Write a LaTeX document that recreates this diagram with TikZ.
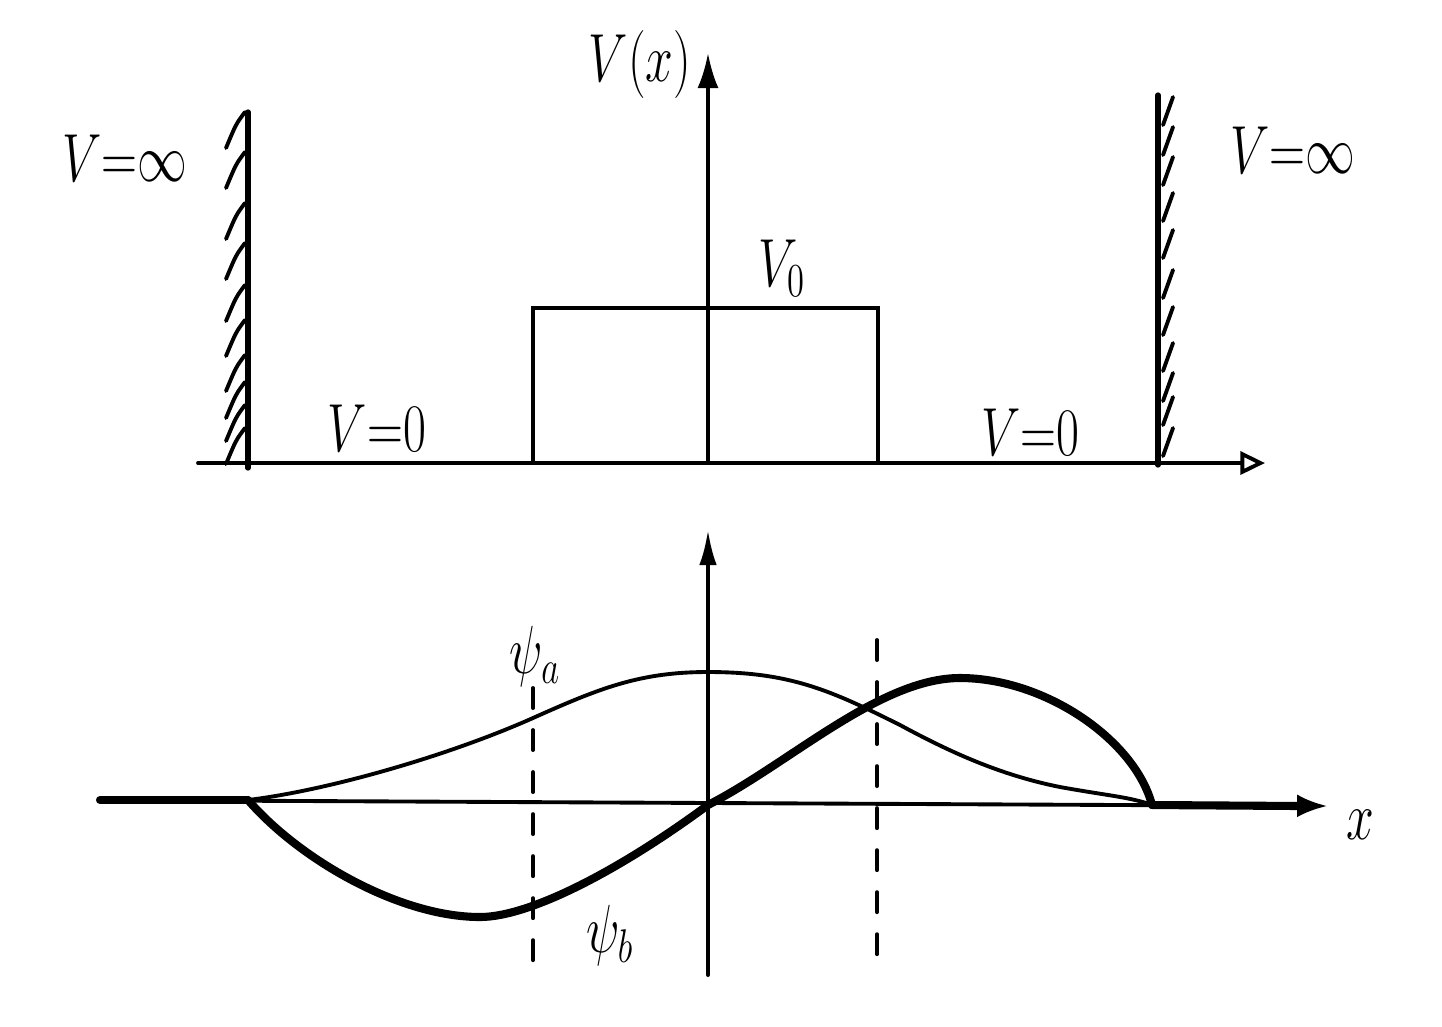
\documentclass[tikz,border=0pt]{standalone}
\usepackage{amsmath}
\usepackage{amssymb}
\usepackage{graphicx}
\usetikzlibrary{arrows.meta}
\def\lwall{248}
\def\rwall{1158}
\newcommand{\handtext}[1]{\scalebox{0.82}[1.12]{#1}}

\begin{document}
\begin{tikzpicture}[x=0.01cm,y=-0.01cm,line width=1.1pt,line cap=round]
    \tikzstyle{annot}=[font=\LARGE,inner sep=0pt]
    \tikzstyle{wall}=[line width=1.5pt]
    \tikzstyle{hatch}=[line width=1.1pt]
    \tikzstyle{guide}=[line width=1.1pt,dash pattern=on 0.2cm off 0.22cm]
    \tikzstyle{psi a}=[line width=1.1pt]
    \tikzstyle{psi b}=[line width=2.3pt]

    \useasboundingbox (0,0) rectangle (1442,1026);

    % Draw the axes of the potential
    \coordinate (P-left) at (198,463);
    \coordinate (P-right) at (1265,463);
    \coordinate (P-foot) at (708,463);
    \coordinate (P-top) at (708,53);
    \draw[-{Triangle[open,length=7pt,width=6.5pt]}] (P-left) -- (P-right);
    \draw[-{Latex[length=10pt,width=6pt]}] (P-foot) -- (P-top);

    % Draw the walls and their hatching
    \draw[wall] (\lwall,112) -- (\lwall,468);
    \draw[wall] (\rwall,95) -- (\rwall,465);
    \foreach \y in {112,152,203,243,285,320,355,382,405,428}
        \draw[hatch] (\lwall-3,\y) .. controls (\lwall-12,\y+12) .. (\lwall-22,\y+36);
    \foreach \y in {97,127,157,193,230,270,307,343,373,397,428}
        \draw[hatch] (\rwall+15,\y) -- (\rwall+5,\y+28);

    % Draw the barrier
    \draw (533,463) -- (533,308) -- (878,308) -- (878,463);

    % Annotate the potential
    \node[annot] (Vx) at (640,64) {\handtext{$V(x)$}};
    \node[annot] (Vinf-L) at (125,158) {\handtext{$V{=}\infty$}};
    \node[annot] (Vinf-R) at (1293,150) {\handtext{$V{=}\infty$}};
    \node[annot] (Vzero-L) at (377,428) {\handtext{$V{=}0$}};
    \node[annot] (Vzero-R) at (1030,432) {\handtext{$V{=}0$}};
    \node[annot] (Vbar) at (782,268) {\handtext{$V_0$}};

    % Draw the axes of the wave functions
    \coordinate (W-left) at (100,800);
    \coordinate (W-right) at (1327,806);
    \coordinate (W-foot) at (708,975);
    \coordinate (W-top) at (708,530);
    \draw[-{Latex[length=10pt,width=5pt]}] (W-foot) -- (W-top);
    \draw[-{Latex[length=8.5pt,width=6.5pt]}] (W-left) -- (W-right);

    % Dashed lines under the barrier edges
    \draw[guide] (533,688) -- (533,975);
    \draw[guide] (877,640) -- (877,965);

    % Draw the two wave functions
    \draw[psi a] (\lwall,800) .. controls (330,790) and (450,755) .. (533,718)
        .. controls (600,688) and (640,672) .. (708,672)
        .. controls (790,672) and (830,690) .. (900,725)
        .. controls (950,752) and (1000,775) .. (1060,787)
        .. controls (1110,796) and (1130,797) .. (1152,805);
    \draw[psi b] (\lwall,800) .. controls (300,860) and (400,917) .. (480,917)
        .. controls (530,917) and (620,870) .. (708,805)
        .. controls (790,763) and (880,678) .. (960,678)
        .. controls (1045,678) and (1135,740) .. (1152,805);
    \draw[psi b] (100,800) -- (\lwall,800);
    \draw[psi b] (1152,805) -- (1300,806);

    % Annotate the wave functions
    \node[annot] (psia) at (535,656) {\handtext{$\psi_a$}};
    \node[annot] (psib) at (610,935) {\handtext{$\psi_b$}};
    \node[annot] (xlab) at (1360,825) {\handtext{$x$}};
\end{tikzpicture}
\end{document}
